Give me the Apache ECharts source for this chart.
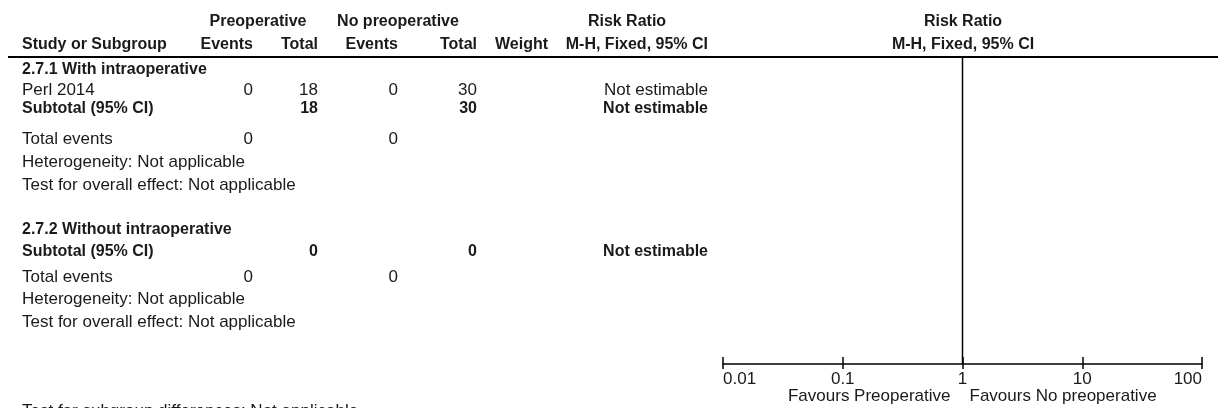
<!DOCTYPE html>
<html>
<head>
<meta charset="utf-8">
<script src="https://cdn.jsdelivr.net/npm/echarts@6/dist/echarts.min.js"></script>
<style>
html,body{margin:0;padding:0;background:#fff;}
#chart{width:1224px;height:408px;}
</style>
</head>
<body>
<div id="chart"></div>
<script>
// ---------------- DATA ----------------
const groupHeaders = ['Preoperative', 'No preoperative', 'Risk Ratio'];
const columnHeaders = ['Study or Subgroup', 'Events', 'Total', 'Events', 'Total', 'Weight', 'M-H, Fixed, 95% CI'];
const plotHeaders = ['Risk Ratio', 'M-H, Fixed, 95% CI'];

const subgroupTitles = ['2.7.1 With intraoperative', '2.7.2 Without intraoperative'];
// studies per subgroup
const studyNames = [['Perl 2014'], []];
const studyPreEvents = [[0], []];
const studyPreTotal = [[18], []];
const studyNoEvents = [[0], []];
const studyNoTotal = [[30], []];
const studyWeight = [[''], []];
const studyRR = [['Not estimable'], []];

const subtotalLabel = 'Subtotal (95% CI)';
const subtotalPreTotal = [18, 0];
const subtotalNoTotal = [30, 0];
const subtotalRR = ['Not estimable', 'Not estimable'];

const totalEventsLabel = 'Total events';
const totalEventsPre = [0, 0];
const totalEventsNo = [0, 0];
const heterogeneityText = ['Heterogeneity: Not applicable', 'Heterogeneity: Not applicable'];
const overallEffectText = ['Test for overall effect: Not applicable', 'Test for overall effect: Not applicable'];
const subgroupDiffText = 'Test for subgroup differences: Not applicable';

const tickValues = [0.01, 0.1, 1, 10, 100];
const tickLabels = ['0.01', '0.1', '1', '10', '100'];
const nullValue = 1;
const favoursLeft = 'Favours Preoperative';
const favoursRight = 'Favours No preoperative';

// ---------------- LAYOUT ----------------
const FONT_FAMILY = '"Liberation Sans", Arial, sans-serif';
const FS_BOLD = 16;
const FS_REG = 17;
const TXT = '#1a1a1a';
const colLeft = 22;
const colRight = { preEvents: 253, preTotal: 318, noEvents: 398, noTotal: 477, weight: 548, rr: 708 };
const headerY = [22, 45];
const ruleY = 57;
const groupLayout = [
  { title: 70, studies: [90], subtotal: 109, totalEvents: 139, het: 162, test: 185 },
  { title: 230, studies: [], subtotal: 252, totalEvents: 277, het: 299, test: 322 }
];
const diffY = 411;
const plotLeft = 723, plotRight = 1202, axisY = 364;
const favoursY = 396;

function txt(s, x, y, align, bold) {
  return {
    type: 'text', x: x, y: y, silent: true,
    style: {
      text: String(s), fill: TXT,
      font: (bold ? 'bold ' + FS_BOLD : FS_REG) + 'px ' + FONT_FAMILY,
      align: align, textAlign: align,
      verticalAlign: 'middle', textVerticalAlign: 'middle'
    }
  };
}

const g = [];
g.push(txt(groupHeaders[0], 258, headerY[0], 'center', true));
g.push(txt(groupHeaders[1], 398, headerY[0], 'center', true));
g.push(txt(groupHeaders[2], 627, headerY[0], 'center', true));
g.push(txt(plotHeaders[0], 963, headerY[0], 'center', true));
g.push(txt(columnHeaders[0], colLeft, headerY[1], 'left', true));
g.push(txt(columnHeaders[1], colRight.preEvents, headerY[1], 'right', true));
g.push(txt(columnHeaders[2], colRight.preTotal, headerY[1], 'right', true));
g.push(txt(columnHeaders[3], colRight.noEvents, headerY[1], 'right', true));
g.push(txt(columnHeaders[4], colRight.noTotal, headerY[1], 'right', true));
g.push(txt(columnHeaders[5], colRight.weight, headerY[1], 'right', true));
g.push(txt(columnHeaders[6], colRight.rr, headerY[1], 'right', true));
g.push(txt(plotHeaders[1], 963, headerY[1], 'center', true));
g.push({ type: 'line', silent: true, shape: { x1: 8, y1: ruleY, x2: 1218, y2: ruleY }, style: { stroke: '#000', lineWidth: 2 } });

subgroupTitles.forEach(function (title, gi) {
  const L = groupLayout[gi];
  g.push(txt(title, colLeft, L.title, 'left', true));
  studyNames[gi].forEach(function (name, si) {
    const y = L.studies[si];
    g.push(txt(name, colLeft, y, 'left', false));
    g.push(txt(studyPreEvents[gi][si], colRight.preEvents, y, 'right', false));
    g.push(txt(studyPreTotal[gi][si], colRight.preTotal, y, 'right', false));
    g.push(txt(studyNoEvents[gi][si], colRight.noEvents, y, 'right', false));
    g.push(txt(studyNoTotal[gi][si], colRight.noTotal, y, 'right', false));
    if (studyWeight[gi][si] !== '') g.push(txt(studyWeight[gi][si], colRight.weight, y, 'right', false));
    g.push(txt(studyRR[gi][si], colRight.rr, y, 'right', false));
  });
  g.push(txt(subtotalLabel, colLeft, L.subtotal, 'left', true));
  g.push(txt(subtotalPreTotal[gi], colRight.preTotal, L.subtotal, 'right', true));
  g.push(txt(subtotalNoTotal[gi], colRight.noTotal, L.subtotal, 'right', true));
  g.push(txt(subtotalRR[gi], colRight.rr, L.subtotal, 'right', true));
  g.push(txt(totalEventsLabel, colLeft, L.totalEvents, 'left', false));
  g.push(txt(totalEventsPre[gi], colRight.preEvents, L.totalEvents, 'right', false));
  g.push(txt(totalEventsNo[gi], colRight.noEvents, L.totalEvents, 'right', false));
  g.push(txt(heterogeneityText[gi], colLeft, L.het, 'left', false));
  g.push(txt(overallEffectText[gi], colLeft, L.test, 'left', false));
});
g.push(txt(subgroupDiffText, colLeft, diffY, 'left', false));

const chart = echarts.init(document.getElementById('chart'), null, { renderer: 'canvas' });

const xBase = {
  type: 'log', logBase: 10, min: tickValues[0], max: tickValues[tickValues.length - 1],
  position: 'bottom', gridIndex: 0, splitLine: { show: false }
};

chart.setOption({
  animation: false,
  backgroundColor: '#fff',
  grid: {
    left: plotLeft, right: 1224 - plotRight, top: ruleY, bottom: 408 - axisY,
    containLabel: false, outerBoundsMode: 'none'
  },
  xAxis: [
    Object.assign({}, xBase, {
      axisLine: { show: true, lineStyle: { color: '#000', width: 1.5 } },
      axisTick: { show: true, inside: false, length: 5, lineStyle: { color: '#000', width: 1.5 } },
      axisLabel: {
        show: true, color: TXT, fontSize: FS_REG, fontFamily: FONT_FAMILY, margin: 7,
        showMinLabel: true, showMaxLabel: true,
        alignMinLabel: 'left', alignMaxLabel: 'right',
        formatter: function (v) {
          const i = tickValues.findIndex(function (t) { return Math.abs(Math.log10(t) - Math.log10(v)) < 1e-6; });
          return i >= 0 ? tickLabels[i] : '';
        }
      }
    }),
    Object.assign({}, xBase, {
      axisLine: { show: false },
      axisTick: { show: true, inside: true, length: 7, lineStyle: { color: '#000', width: 1.5 } },
      axisLabel: { show: false }
    })
  ],
  yAxis: { type: 'value', min: 0, max: 1, show: false, splitLine: { show: false } },
  series: [
    {
      type: 'line', xAxisIndex: 0, silent: true, symbol: 'none',
      data: [[nullValue, 0], [nullValue, 1]],
      lineStyle: { color: '#000', width: 1.5 }
    }
  ]
});

// favours labels placed relative to the null line, via the axis scale
const nullX = chart.convertToPixel({ xAxisIndex: 0 }, nullValue);
g.push(txt(favoursLeft, nullX - 12, favoursY, 'right', false));
g.push(txt(favoursRight, nullX + 7, favoursY, 'left', false));
chart.setOption({ graphic: g });
</script>
</body>
</html>
